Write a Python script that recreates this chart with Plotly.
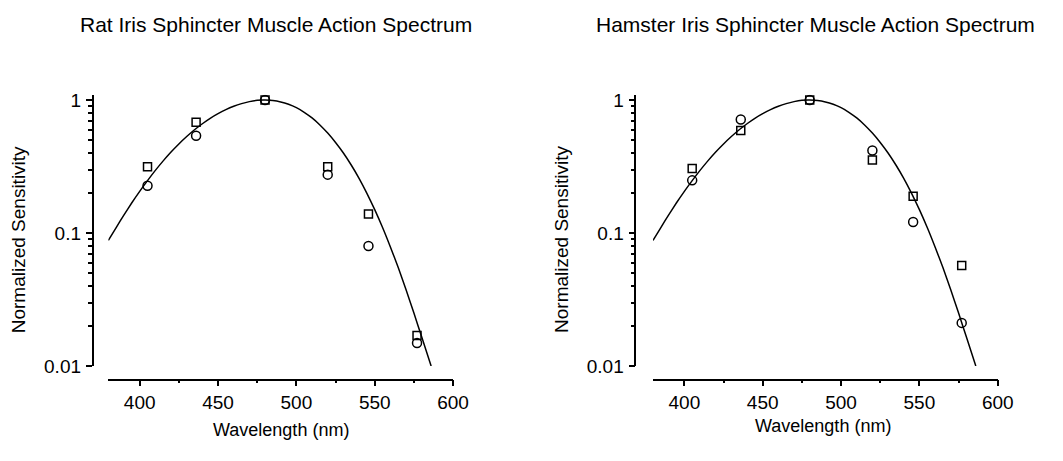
import plotly.graph_objects as go

# ---- data ----
wavelengths = [405, 436, 480, 520, 546, 577]

rat_squares = [0.315, 0.68, 1.0, 0.315, 0.139, 0.017]
rat_circles = [0.227, 0.54, 1.0, 0.275, 0.080, 0.0149]

hamster_squares = [0.306, 0.59, 1.0, 0.354, 0.189, 0.057]
hamster_circles = [0.249, 0.714, 1.0, 0.418, 0.121, 0.0211]

# fitted action-spectrum curve (same curve in both panels)
curve_nm = [380, 385, 390, 395, 400, 405, 410, 415, 420, 425, 430, 435, 440, 445,
            450, 455, 460, 465, 470, 475, 480, 485, 490, 495, 500, 505, 510, 515,
            520, 525, 530, 535, 540, 545, 550, 555, 560, 565, 570, 575, 580, 586]
curve_vals = [0.088, 0.110, 0.137, 0.169, 0.206, 0.248, 0.296, 0.349, 0.407, 0.468,
              0.532, 0.598, 0.664, 0.729, 0.790, 0.848, 0.899, 0.941, 0.974, 0.996,
              1.0, 0.993, 0.969, 0.930, 0.877, 0.810, 0.734, 0.650, 0.565, 0.480,
              0.400, 0.325, 0.258, 0.199, 0.150, 0.110, 0.0785, 0.055, 0.0374, 0.025,
              0.0165, 0.0100]

titles = ["Rat Iris Sphincter Muscle Action Spectrum",
          "Hamster Iris Sphincter Muscle Action Spectrum"]
x_title = "Wavelength (nm)"
y_title = "Normalized Sensitivity"
x_ticks = [400, 450, 500, 550, 600]
x_minor = [425, 475, 525, 575]
y_ticks = [0.01, 0.1, 1]
y_ticktext = ["0.01", "0.1", "1"]
y_minor = [0.02, 0.03, 0.04, 0.05, 0.06, 0.07, 0.08, 0.09,
           0.2, 0.3, 0.4, 0.5, 0.6, 0.7, 0.8, 0.9]

W, H = 1063, 461
FONT = "Liberation Sans, Arial, Helvetica, sans-serif"

fig = go.Figure()

panels = [
    dict(sq=rat_squares, ci=rat_circles, xd=(110, 460), yax=94, suffix=""),
    dict(sq=hamster_squares, ci=hamster_circles, xd=(663, 1013), yax=645, suffix="2"),
]

for p in panels:
    xa = "x" + p["suffix"]
    ya = "y" + p["suffix"]
    fig.add_trace(go.Scatter(x=curve_nm, y=curve_vals, mode="lines",
                             line=dict(color="black", width=1.5, shape="spline", smoothing=0.6),
                             xaxis=xa, yaxis=ya, showlegend=False, hoverinfo="skip"))
    fig.add_trace(go.Scatter(x=wavelengths, y=p["sq"], mode="markers",
                             marker=dict(symbol="square-open", size=8, color="black",
                                         line=dict(width=1.5, color="black")),
                             xaxis=xa, yaxis=ya, showlegend=False))
    fig.add_trace(go.Scatter(x=wavelengths, y=p["ci"], mode="markers",
                             marker=dict(symbol="circle-open", size=9, color="black",
                                         line=dict(width=1.5, color="black")),
                             xaxis=xa, yaxis=ya, showlegend=False))

y_top = 93
y_bot = 374
x_line = 388

layout = dict(
    width=W, height=H,
    margin=dict(l=0, r=0, t=0, b=0),
    paper_bgcolor="white", plot_bgcolor="white",
    font=dict(family=FONT, size=19, color="black"),
    showlegend=False,
)

for p in panels:
    s = p["suffix"]
    layout["xaxis" + s] = dict(
        domain=[p["xd"][0] / W, p["xd"][1] / W],
        range=[380, 600],
        anchor="free", position=1 - x_line / H,
        showline=True, linecolor="black", linewidth=1.5,
        showgrid=False, zeroline=False,
        ticks="outside", ticklen=6, tickwidth=1.5, tickcolor="black",
        tickvals=x_ticks, ticktext=[str(v) for v in x_ticks],
        ticklabelstandoff=0,
        minor=dict(tickvals=x_minor, ticks="outside", ticklen=3, tickwidth=1.5,
                   tickcolor="black", showgrid=False),
        tickfont=dict(size=19, family=FONT),
        fixedrange=True,
    )
    layout["yaxis" + s] = dict(
        domain=[1 - y_bot / H, 1 - y_top / H],
        type="log", range=[-2, 0.04],
        anchor="free", position=p["yax"] / W,
        showline=True, linecolor="black", linewidth=1.5,
        showgrid=False, zeroline=False,
        ticks="outside", ticklen=6, tickwidth=1.5, tickcolor="black",
        tickvals=y_ticks, ticktext=y_ticktext,
        ticklabelstandoff=1,
        minor=dict(tickvals=y_minor, ticks="outside", ticklen=4, tickwidth=1.5,
                   tickcolor="black", showgrid=False),
        tickfont=dict(size=19, family=FONT),
        fixedrange=True,
    )

annotations = [
    dict(text=titles[0], x=280 / W, y=1 - 20 / H, size=21),
    dict(text=titles[1], x=828 / W, y=1 - 20 / H, size=21),
    dict(text=x_title, x=285 / W, y=1 - 440 / H, size=18),
    dict(text=x_title, x=836 / W, y=1 - 436 / H, size=18),
    dict(text=y_title, x=19 / W, y=1 - 243 / H, textangle=-90, size=19),
    dict(text=y_title, x=570 / W, y=1 - 243 / H, textangle=-90, size=19),
]
for a in annotations:
    sz = a.pop("size")
    a.update(xref="paper", yref="paper", showarrow=False,
             xanchor="center", yanchor="middle",
             font=dict(family=FONT, size=sz, color="black"))
layout["annotations"] = annotations

fig.update_layout(**layout)
fig.write_html("out.html")
